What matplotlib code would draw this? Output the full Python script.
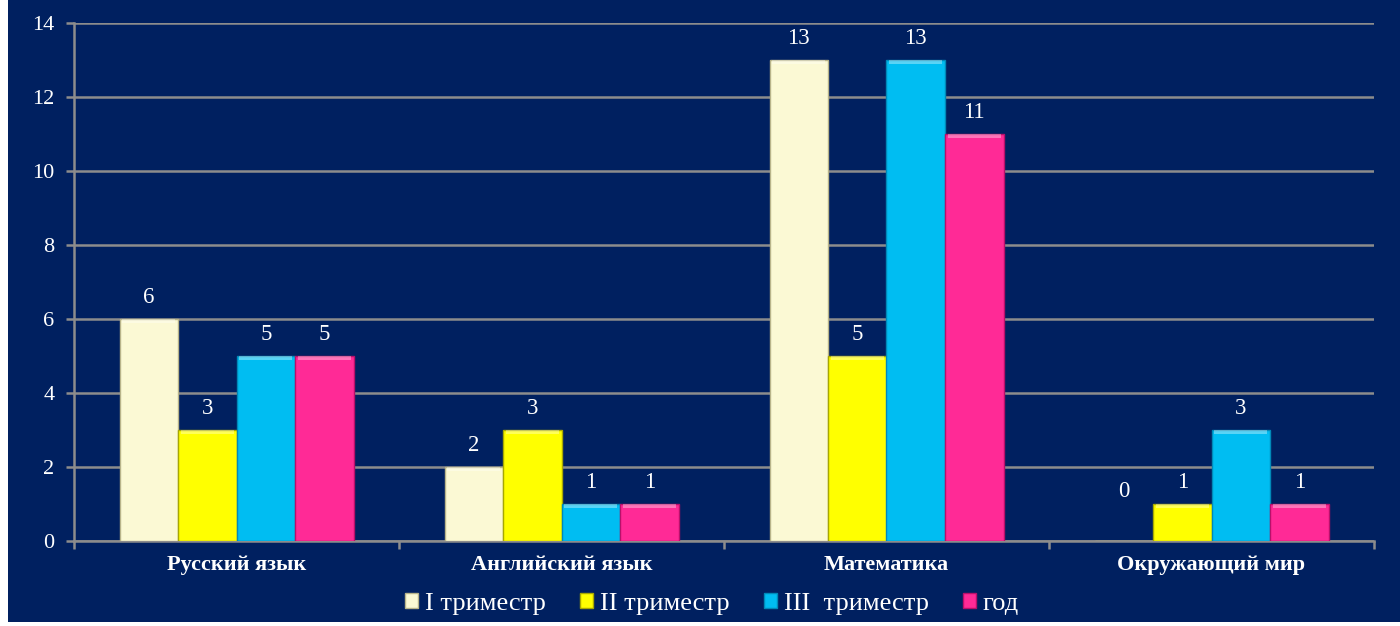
import matplotlib
matplotlib.use("Agg")
import matplotlib.pyplot as plt
import numpy as np
from matplotlib.patches import Rectangle

categories = ["Русский язык", "Английский язык", "Математика", "Окружающий мир"]
series_names = ["I триместр", "II триместр", "III  триместр", "год"]
tri1 = [6, 2, 13, 0]
tri2 = [3, 3, 5, 1]
tri3 = [5, 1, 13, 3]
year = [5, 1, 11, 1]
series = [tri1, tri2, tri3, year]
colors = ["#FBF9D4", "#FFFF00", "#00BDF2", "#FF2A96"]
edges = ["#B8B48A", "#A8A800", "#0089B8", "#B8106A"]

navy = "#002060"
grid_c = "#8C8C8C"
serif = ["Liberation Serif", "DejaVu Serif"]

fig = plt.figure(figsize=(14, 6.26), dpi=100, facecolor="white")
fig.patches.append(Rectangle((8/1400, 4/626), 1 - 8/1400, 1 - 4/626,
                             transform=fig.transFigure, facecolor=navy,
                             edgecolor="none", zorder=-10))
ax = fig.add_axes([74/1400, (626-541)/626, (1374-74)/1400, (541-23)/626])
ax.set_facecolor(navy)

n = len(series)
w = 0.18
x = np.arange(len(categories))
handles = []
for i, (vals, c, ec, name) in enumerate(zip(series, colors, edges, series_names)):
    pos = x + (i - (n - 1) / 2) * w
    bars = ax.bar(pos, vals, width=w, color=c, edgecolor=ec, linewidth=1.0,
                  label=name, zorder=3)
    handles.append(bars)
    for b, v in zip(bars, vals):
        if v > 0:
            ax.bar(b.get_x() + b.get_width()/2, 0.12, bottom=v - 0.12, width=w*0.9,
                   color="white", alpha=0.35, linewidth=0, zorder=4)
    for p, v in zip(pos, vals):
        base = v if v > 0 else 0.75
        ax.text(p, base + 0.3, str(v), ha="center", va="bottom", color="white",
                fontsize=16.5, family=serif, zorder=5)

ax.set_xlim(-0.5, len(categories) - 0.5)
ax.set_ylim(0, 14)
ax.set_yticks(range(0, 15, 2))
ax.yaxis.grid(True, color=grid_c, linewidth=1.8, zorder=0)
ax.set_axisbelow(True)
for s in ["top", "right"]:
    ax.spines[s].set_visible(False)
for s in ["left", "bottom"]:
    ax.spines[s].set_color(grid_c)
    ax.spines[s].set_linewidth(1.8)
ax.tick_params(axis="y", colors=grid_c, length=6, width=1.8, pad=8,
               labelcolor="white", labelsize=16)
for t in ax.get_yticklabels():
    t.set_family(serif)

ax.set_xticks(np.arange(-0.5, len(categories), 1.0), minor=False)
ax.set_xticklabels([])
ax.tick_params(axis="x", colors=grid_c, length=6, width=1.8, direction="out")
ax.set_xticks(x, minor=True)
ax.set_xticklabels(categories, minor=True)
ax.tick_params(axis="x", which="minor", length=0, pad=10, labelcolor="white",
               labelsize=16)
for t in ax.get_xticklabels(minor=True):
    t.set_family(serif)
    t.set_fontweight("bold")

leg = fig.legend(handles=handles, labels=series_names, loc="center",
                 bbox_to_anchor=(712/1400, 22/626), ncol=4,
                 frameon=False, handlelength=0.5, handleheight=0.5,
                 handletextpad=0.25, columnspacing=1.3,
                 prop={"family": serif, "size": 19})
for t in leg.get_texts():
    t.set_color("white")

fig.savefig("out.png", dpi=100, facecolor=fig.get_facecolor())
